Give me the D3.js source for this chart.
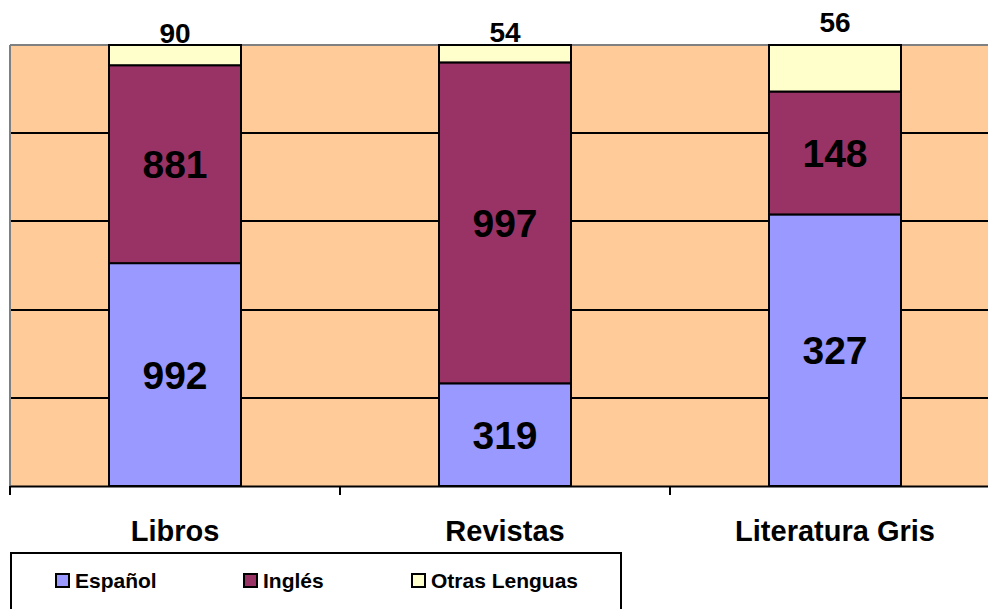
<!DOCTYPE html>
<html>
<head>
<meta charset="utf-8">
<script src="https://cdn.jsdelivr.net/npm/d3@7"></script>
<style>
  body { margin: 0; background: #fff; }
  svg { display: block; font-family: Arial, "Liberation Sans", sans-serif; font-weight: bold; }
</style>
</head>
<body>
<svg id="chart"></svg>
<script>
// Data
const categories = ["Libros", "Revistas", "Literatura Gris"];
const seriesNames = ["Español", "Inglés", "Otras Lenguas"];
const espanol = [992, 319, 327];
const ingles = [881, 997, 148];
const otras = [90, 54, 56];

const colors = ["#9999FF", "#993366", "#FFFFCC"];
// how far the small top labels sit above the bar (manual placement in the original)
const topLabelLift = [2, 3, 13];

const W = 988, H = 609;
const margin = { top: 45, left: 10 };
const plotW = 990, plotH = 441;

const svg = d3.select("#chart").attr("width", W).attr("height", H);

const rows = categories.map((c, i) => ({
  cat: c, "Español": espanol[i], "Inglés": ingles[i], "Otras Lenguas": otras[i]
}));

const stack = d3.stack().keys(seriesNames).offset(d3.stackOffsetExpand);
const layers = stack(rows);

const x = d3.scaleBand().domain(categories).range([0, plotW]).paddingInner(0).paddingOuter(0);
const y = d3.scaleLinear().domain([0, 1]).range([plotH, 0]);
const barW = x.bandwidth() * 0.4;

const g = svg.append("g").attr("transform", `translate(${margin.left},${margin.top})`);

// plot background
g.append("rect").attr("x", 0).attr("y", 0).attr("width", plotW).attr("height", plotH)
  .attr("fill", "#FFCC99");

// gridlines
g.selectAll(".grid").data(y.ticks(5).filter(t => t > 0 && t < 1))
  .enter().append("line")
  .attr("x1", 0).attr("x2", plotW)
  .attr("y1", d => Math.round(y(d))).attr("y2", d => Math.round(y(d)))
  .attr("stroke", "#000").attr("stroke-width", 2);

// plot border (top and left in gray)
g.append("line").attr("x1", 0).attr("x2", plotW).attr("y1", 0).attr("y2", 0)
  .attr("stroke", "#808080").attr("stroke-width", 2);
g.append("line").attr("x1", 0).attr("x2", 0).attr("y1", 0).attr("y2", plotH)
  .attr("stroke", "#808080").attr("stroke-width", 2);

// bars
layers.forEach((layer, si) => {
  g.selectAll(".s" + si).data(layer).enter().append("rect")
    .attr("x", d => x(d.data.cat) + (x.bandwidth() - barW) / 2)
    .attr("width", barW)
    .attr("y", d => y(d[1]))
    .attr("height", d => y(d[0]) - y(d[1]))
    .attr("fill", colors[si])
    .attr("stroke", "#000").attr("stroke-width", 2);
});

// value labels
layers.forEach((layer, si) => {
  g.selectAll(".l" + si).data(layer).enter().append("text")
    .attr("x", d => x(d.data.cat) + x.bandwidth() / 2)
    .attr("y", (d, i) => si === 2 ? y(d[1]) - topLabelLift[i] : (y(d[0]) + y(d[1])) / 2)
    .attr("dy", si === 2 ? "0" : "0.36em")
    .attr("text-anchor", "middle")
    .attr("font-size", si === 2 ? 28 : 39)
    .attr("fill", "#000")
    .text(d => d.data[seriesNames[si]]);
});

// x axis
const axis = g.append("g").attr("transform", `translate(0,${plotH})`)
  .call(d3.axisBottom(x).tickSize(0).tickFormat(""));
axis.select(".domain").attr("stroke", "#000").attr("stroke-width", 2);
g.selectAll(".tk").data(categories).enter().append("line")
  .attr("x1", d => x(d)).attr("x2", d => x(d))
  .attr("y1", plotH).attr("y2", plotH + 9)
  .attr("stroke", "#000").attr("stroke-width", 2);

g.selectAll(".cat").data(categories).enter().append("text")
  .attr("x", d => x(d) + x.bandwidth() / 2)
  .attr("y", plotH + 55)
  .attr("text-anchor", "middle")
  .attr("font-size", 29)
  .text(d => d);

// legend
const legend = svg.append("g");
legend.append("rect").attr("x", 11).attr("y", 553).attr("width", 610).attr("height", 70)
  .attr("fill", "#fff").attr("stroke", "#000").attr("stroke-width", 2);
const legX = [55, 243, 411];
seriesNames.forEach((s, i) => {
  legend.append("rect").attr("x", legX[i] + 1).attr("y", 574).attr("width", 13).attr("height", 13)
    .attr("fill", colors[i]).attr("stroke", "#000").attr("stroke-width", 2);
  legend.append("text").attr("x", legX[i] + 20).attr("y", 588)
    .attr("font-size", 21).text(s);
});
</script>
</body>
</html>
